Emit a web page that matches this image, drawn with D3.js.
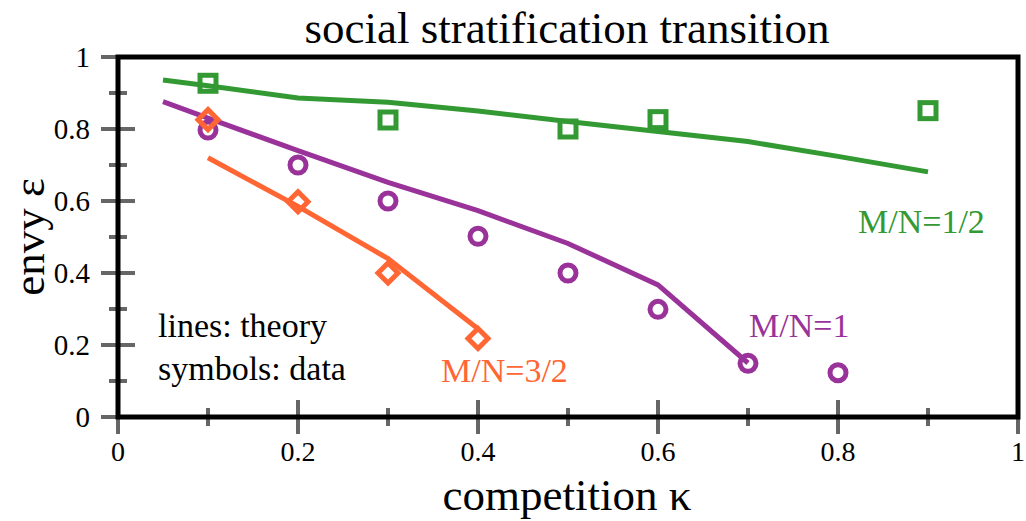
<!DOCTYPE html>
<html lang="en">
<head>
<meta charset="UTF-8">
<title>social stratification transition</title>
<script src="https://cdnjs.cloudflare.com/ajax/libs/d3/7.8.5/d3.min.js"></script>
<style>
    body { margin: 0; background: #fff; }
    svg { display: block; }
</style>
</head>
<body>
<svg id="chart" width="1026" height="521"></svg>
<script>
// theory curves (lines)
var theoryHalf = [[0.05, 0.936], [0.1, 0.92], [0.2, 0.886], [0.3, 0.874], [0.4, 0.85], [0.5, 0.821], [0.6, 0.793], [0.7, 0.765], [0.8, 0.724], [0.9, 0.681]];
var theoryOne = [[0.05, 0.876], [0.1, 0.83], [0.2, 0.74], [0.3, 0.652], [0.4, 0.573], [0.5, 0.482], [0.6, 0.367], [0.7, 0.15]];
var theoryThreeHalf = [[0.1, 0.72], [0.2, 0.585], [0.3, 0.44], [0.4, 0.245]];
// simulation data (symbols)
var dataHalf = [[0.1, 0.927], [0.3, 0.825], [0.5, 0.80], [0.6, 0.826], [0.9, 0.851]];
var dataOne = [[0.1, 0.797], [0.2, 0.70], [0.3, 0.60], [0.4, 0.502], [0.5, 0.40], [0.6, 0.299], [0.7, 0.149], [0.8, 0.123]];
var dataThreeHalf = [[0.1, 0.826], [0.2, 0.598], [0.3, 0.40], [0.4, 0.218]];
var majorTicks = [0, 0.2, 0.4, 0.6, 0.8, 1];
var minorTicks = [0.1, 0.3, 0.5, 0.7, 0.9];
var tickLabels = ["0", "0.2", "0.4", "0.6", "0.8", "1"];

var green = "#339933", purple = "#993399", orange = "#ff6633";
var serif = "'Liberation Serif', 'Times New Roman', serif";

var svg = d3.select("#chart");
var x = d3.scaleLinear().domain([0, 1]).range([118, 1018]);
var y = d3.scaleLinear().domain([0, 1]).range([417, 57]);

// ticks (grey, crossing the frame)
var tk = svg.append("g").attr("stroke", "#666").attr("stroke-width", 4);
majorTicks.forEach(function(t) {
    tk.append("line").attr("x1", x(0) - 17).attr("x2", x(0) + 17).attr("y1", y(t)).attr("y2", y(t));
    tk.append("line").attr("y1", y(0) - 17).attr("y2", y(0) + 17).attr("x1", x(t)).attr("x2", x(t));
});
minorTicks.forEach(function(t) {
    tk.append("line").attr("x1", x(0) - 9).attr("x2", x(0) + 9).attr("y1", y(t)).attr("y2", y(t));
    tk.append("line").attr("y1", y(0) - 9).attr("y2", y(0) + 9).attr("x1", x(t)).attr("x2", x(t));
});

// frame
svg.append("rect")
    .attr("x", x(0)).attr("y", y(1))
    .attr("width", x(1) - x(0)).attr("height", y(0) - y(1))
    .attr("fill", "none").attr("stroke", "#000").attr("stroke-width", 5);

var txt = svg.append("g").style("font-family", serif);

// tick labels
txt.append("g").selectAll("text").data(majorTicks).enter().append("text")
    .attr("x", 90).attr("y", d => y(d) + 10)
    .attr("text-anchor", "end").attr("font-size", 29)
    .text((d, i) => tickLabels[i]);
txt.append("g").selectAll("text").data(majorTicks).enter().append("text")
    .attr("x", d => x(d)).attr("y", 461)
    .attr("text-anchor", "middle").attr("font-size", 28)
    .text((d, i) => tickLabels[i]);

// theory lines
var line = d3.line().x(d => x(d[0])).y(d => y(d[1]));
[[theoryHalf, green], [theoryOne, purple], [theoryThreeHalf, orange]].forEach(function(s) {
    svg.append("path").datum(s[0])
        .attr("d", line)
        .attr("fill", "none").attr("stroke", s[1]).attr("stroke-width", 5);
});

// symbols
svg.append("g").selectAll("rect").data(dataHalf).enter().append("rect")
    .attr("x", d => x(d[0]) - 8).attr("y", d => y(d[1]) - 8)
    .attr("width", 16).attr("height", 16)
    .attr("fill", "none").attr("stroke", green).attr("stroke-width", 5);
svg.append("g").selectAll("circle").data(dataOne).enter().append("circle")
    .attr("cx", d => x(d[0])).attr("cy", d => y(d[1])).attr("r", 8)
    .attr("fill", "none").attr("stroke", purple).attr("stroke-width", 5);
svg.append("g").selectAll("path").data(dataThreeHalf).enter().append("path")
    .attr("d", d => "M" + x(d[0]) + "," + (y(d[1]) - 10) + "l10,10l-10,10l-10,-10z")
    .attr("fill", "none").attr("stroke", orange).attr("stroke-width", 5);

// annotations
txt.append("text").attr("x", 858).attr("y", 233).attr("font-size", 34).attr("fill", green).text("M/N=1/2");
txt.append("text").attr("x", 749).attr("y", 337).attr("font-size", 34).attr("fill", purple).text("M/N=1");
txt.append("text").attr("x", 441).attr("y", 382).attr("font-size", 34).attr("fill", orange).text("M/N=3/2");
txt.append("text").attr("x", 158).attr("y", 337).attr("font-size", 34).text("lines: theory");
txt.append("text").attr("x", 158).attr("y", 380).attr("font-size", 34).text("symbols: data");

// titles
txt.append("text").attr("x", 567).attr("y", 43).attr("text-anchor", "middle")
    .attr("font-size", 45).text("social stratification transition");
txt.append("text").attr("x", 567).attr("y", 510).attr("text-anchor", "middle")
    .attr("font-size", 45).text("competition κ");
txt.append("text").attr("transform", "translate(44,237) rotate(-90)").attr("text-anchor", "middle")
    .attr("font-size", 45).text("envy ε");
</script>
</body>
</html>
